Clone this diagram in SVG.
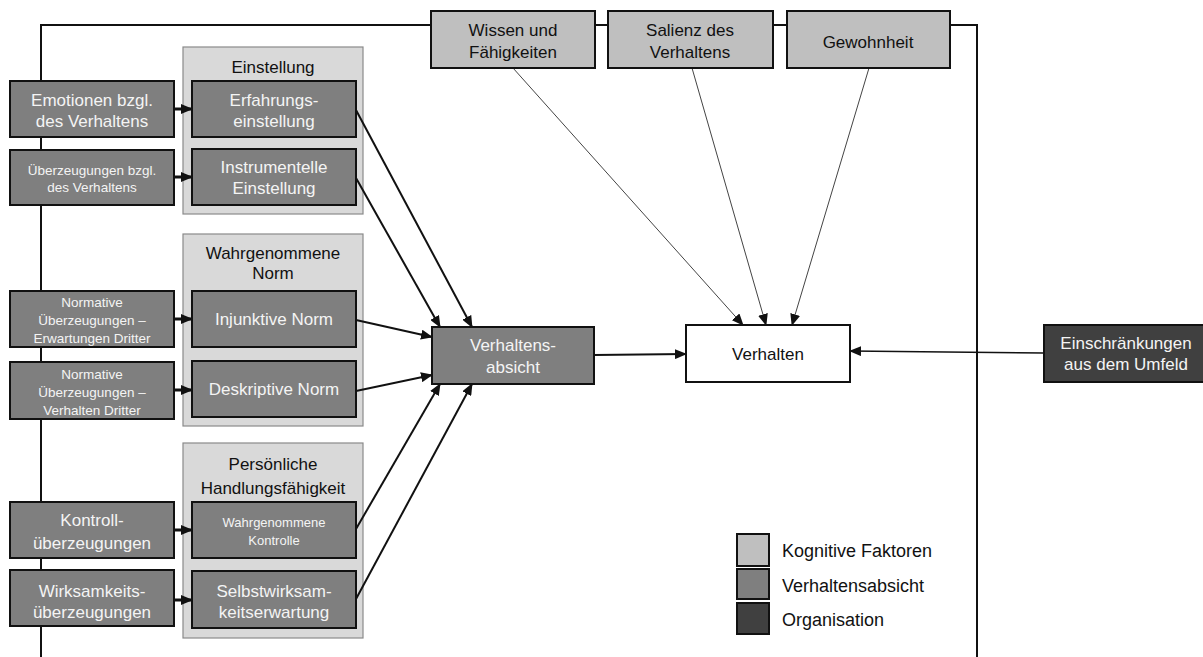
<svg xmlns="http://www.w3.org/2000/svg" width="1203" height="657" viewBox="0 0 1203 657">
<style>
text{font-family:"Liberation Sans",Arial,sans-serif;text-anchor:middle;}
.dk{fill:#7f7f7f;stroke:#111;stroke-width:2;}
.grp{fill:#d9d9d9;stroke:#8a8a8a;stroke-width:1.2;}
.lt{fill:#bfbfbf;stroke:#111;stroke-width:2;}
.org{fill:#404040;stroke:#111;stroke-width:2;}
.wh{fill:#fff;stroke:#111;stroke-width:2;}
.tw{fill:#f4f4f4;font-size:17px;}
.tws{fill:#f4f4f4;font-size:13.5px;}
.tb{fill:#111;font-size:17px;}
.leg{fill:#111;font-size:18px;text-anchor:start;}
.c2{stroke:#111;stroke-width:2;fill:none;marker-end:url(#ah);}
.c3{stroke:#111;stroke-width:3;fill:none;marker-end:url(#ah);}
.c1{stroke:#444;stroke-width:1;fill:none;marker-end:url(#ah);}
</style>
<defs>
<marker id="ah" markerUnits="userSpaceOnUse" markerWidth="12" markerHeight="10" refX="11" refY="5" orient="auto">
<path d="M0,0 L12,5 L0,10 Z" fill="#111"/>
</marker>
</defs>
<rect width="1203" height="657" fill="#fff"/>
<path id="frame" d="M41,657 V25 H977 V657" fill="none" stroke="#111" stroke-width="2"/>

<g id="g-einstellung">
<rect class="grp" x="183" y="47" width="180" height="167"/>
<text class="tb" x="273" y="73">Einstellung</text>
</g>
<g id="g-norm">
<rect class="grp" x="183" y="234" width="180" height="192"/>
<text class="tb" x="273" y="259">Wahrgenommene</text>
<text class="tb" x="273" y="279">Norm</text>
</g>
<g id="g-handlung">
<rect class="grp" x="183" y="443" width="180" height="195"/>
<text class="tb" x="273" y="470">Persönliche</text>
<text class="tb" x="273" y="494">Handlungsfähigkeit</text>
</g>

<g id="connectors">
<path class="c3" d="M174,109 H192"/>
<path class="c3" d="M174,177 H192"/>
<path class="c3" d="M174,319 H192"/>
<path class="c3" d="M174,390 H192"/>
<path class="c3" d="M174,530 H192"/>
<path class="c3" d="M174,600 H192"/>
<path class="c2" d="M356,110 L472,327"/>
<path class="c2" d="M356,178 L440,327"/>
<path class="c2" d="M356,320 L432,337"/>
<path class="c2" d="M356,391 L432,375"/>
<path class="c2" d="M356,529 L440,384"/>
<path class="c2" d="M356,599 L472,384"/>
<path class="c2" d="M594,355 L686,354"/>
<path class="c1" d="M513,68 L743,325"/>
<path class="c1" d="M692,68 L766,325"/>
<path class="c1" d="M869,68 L792,325"/>
<path class="c2" style="stroke-width:1.6" d="M1044,353 L850,351"/>
</g>

<g id="n-emotionen">
<rect class="dk" x="10" y="81" width="164" height="56"/>
<text class="tw" x="92" y="106">Emotionen bzgl.</text>
<text class="tw" x="92" y="127">des Verhaltens</text>
</g>
<g id="n-ueberzeugungen">
<rect class="dk" x="10" y="150" width="164" height="55"/>
<text class="tws" x="92" y="175">Überzeugungen bzgl.</text>
<text class="tws" x="92" y="192">des Verhaltens</text>
</g>
<g id="n-normativ1">
<rect class="dk" x="10" y="291" width="164" height="56"/>
<text class="tws" x="92" y="307">Normative</text>
<text class="tws" x="92" y="325">Überzeugungen –</text>
<text class="tws" x="92" y="343">Erwartungen Dritter</text>
</g>
<g id="n-normativ2">
<rect class="dk" x="10" y="362" width="164" height="57"/>
<text class="tws" x="92" y="379">Normative</text>
<text class="tws" x="92" y="397">Überzeugungen –</text>
<text class="tws" x="92" y="415">Verhalten Dritter</text>
</g>
<g id="n-kontroll">
<rect class="dk" x="10" y="502" width="164" height="56"/>
<text class="tw" x="92" y="525.5">Kontroll-</text>
<text class="tw" x="92" y="548.5">überzeugungen</text>
</g>
<g id="n-wirksamkeit">
<rect class="dk" x="10" y="570" width="164" height="56"/>
<text class="tw" x="92" y="596.5">Wirksamkeits-</text>
<text class="tw" x="92" y="618">überzeugungen</text>
</g>

<g id="n-erfahrung">
<rect class="dk" x="192" y="81" width="164" height="56"/>
<text class="tw" x="274" y="106">Erfahrungs-</text>
<text class="tw" x="274" y="127">einstellung</text>
</g>
<g id="n-instrumentell">
<rect class="dk" x="192" y="149" width="164" height="56"/>
<text class="tw" x="274" y="173">Instrumentelle</text>
<text class="tw" x="274" y="194">Einstellung</text>
</g>
<g id="n-injunktiv">
<rect class="dk" x="192" y="291" width="164" height="56"/>
<text class="tw" x="274" y="325">Injunktive Norm</text>
</g>
<g id="n-deskriptiv">
<rect class="dk" x="192" y="361" width="164" height="56"/>
<text class="tw" x="274" y="395">Deskriptive Norm</text>
</g>
<g id="n-kontrolle">
<rect class="dk" x="192" y="502" width="164" height="56"/>
<text class="tws" style="font-size:13px" x="274" y="527">Wahrgenommene</text>
<text class="tws" style="font-size:13px" x="274" y="545">Kontrolle</text>
</g>
<g id="n-selbstwirksam">
<rect class="dk" x="192" y="571" width="164" height="57"/>
<text class="tw" x="274" y="597">Selbstwirksam-</text>
<text class="tw" x="274" y="618">keitserwartung</text>
</g>

<g id="n-absicht">
<rect class="dk" x="432" y="327" width="162" height="57"/>
<text class="tw" x="513" y="351">Verhaltens-</text>
<text class="tw" x="513" y="373">absicht</text>
</g>
<g id="n-verhalten">
<rect class="wh" x="686" y="325" width="164" height="57"/>
<text class="tb" x="768" y="360">Verhalten</text>
</g>
<g id="n-einschraenkungen">
<rect class="org" x="1044" y="325" width="166" height="57"/>
<text class="tw" x="1126" y="349">Einschränkungen</text>
<text class="tw" x="1126" y="370">aus dem Umfeld</text>
</g>

<g id="n-wissen">
<rect class="lt" x="431" y="11" width="164" height="57"/>
<text class="tb" x="513" y="36">Wissen und</text>
<text class="tb" x="513" y="58">Fähigkeiten</text>
</g>
<g id="n-salienz">
<rect class="lt" x="608" y="11" width="165" height="57"/>
<text class="tb" x="690" y="36">Salienz des</text>
<text class="tb" x="690" y="58">Verhaltens</text>
</g>
<g id="n-gewohnheit">
<rect class="lt" x="787" y="11" width="163" height="57"/>
<text class="tb" x="868" y="48">Gewohnheit</text>
</g>

<g id="legend">
<rect class="lt" x="737" y="534" width="32" height="32"/>
<rect class="dk" x="737" y="569" width="32" height="30"/>
<rect class="org" x="737" y="603" width="32" height="31"/>
<text class="leg" x="782" y="556.5">Kognitive Faktoren</text>
<text class="leg" x="782" y="591.5">Verhaltensabsicht</text>
<text class="leg" x="782" y="626">Organisation</text>
</g>
</svg>
